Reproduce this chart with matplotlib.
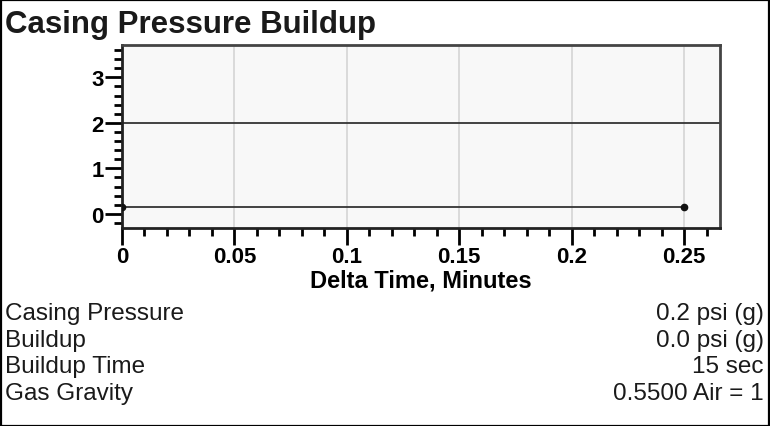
import matplotlib
matplotlib.use("Agg")
import matplotlib.pyplot as plt
from matplotlib.ticker import MultipleLocator
from matplotlib.patches import Rectangle

plt.rcParams["font.family"] = ["Liberation Sans", "DejaVu Sans"]

# Data
time_min = [0.0, 0.0833, 0.1667, 0.25]
pressure = [0.15, 0.15, 0.15, 0.15]
ref_level = 2.0
x_ticks = [0, 0.05, 0.1, 0.15, 0.2, 0.25]
x_tick_labels = ["0", "0.05", "0.1", "0.15", "0.2", "0.25"]
y_ticks = [0, 1, 2, 3]
y_tick_labels = ["0", "1", "2", "3"]
info_labels = ["Casing Pressure", "Buildup", "Buildup Time", "Gas Gravity"]
info_values = ["0.2 psi (g)", "0.0 psi (g)", "15 sec", "0.5500 Air = 1"]

W, H = 770, 427
fig = plt.figure(figsize=(W / 100, H / 100), dpi=100)
fig.patch.set_facecolor("white")

fig.add_artist(Rectangle((0.5 / W, 0.5 / H), (W - 1.5) / W, (H - 1.5) / H,
                         transform=fig.transFigure, fill=False,
                         edgecolor="black", linewidth=1.6))

fig.text(5 / W, 1 - 33 / H, "Casing Pressure Buildup",
         weight="bold", fontsize=22.5, va="baseline", ha="left", color="#1a1a1a")

ax_left, ax_right, ax_top, ax_bot = 122, 720, 46, 229
ax = fig.add_axes([ax_left / W, 1 - ax_bot / H, (ax_right - ax_left) / W, (ax_bot - ax_top) / H])
ax.set_facecolor("#f8f8f8")
ax.set_xlim(0, 0.266)
ax.set_ylim(-0.31, 3.71)

for xt in x_ticks[1:]:
    ax.axvline(xt, color="#d4d4d4", linewidth=1.2, zorder=1)

ax.axhline(ref_level, color="#333333", linewidth=1.3, zorder=2)
ax.plot(time_min, pressure, color="#333333", linewidth=1.3, zorder=3)
ax.plot([time_min[0], time_min[-1]], [pressure[0], pressure[-1]], "o",
        color="#111111", markersize=4.5, zorder=4)

ax.set_xticks(x_ticks, labels=x_tick_labels, fontweight="heavy", fontsize=16)
ax.xaxis.set_minor_locator(MultipleLocator(0.01))
ax.set_yticks(y_ticks, labels=y_tick_labels, fontweight="heavy", fontsize=16)
ax.yaxis.set_minor_locator(MultipleLocator(0.2))

ax.tick_params(axis="x", which="major", direction="out", length=12, width=2, pad=1, colors="black")
ax.tick_params(axis="x", which="minor", direction="out", length=6, width=2, colors="black")
ax.tick_params(axis="y", which="major", direction="out", length=12, width=2, pad=1, colors="black")
ax.tick_params(axis="y", which="minor", direction="out", length=6, width=2, colors="black")

for side in ["top", "right"]:
    ax.spines[side].set_color("#444444")
    ax.spines[side].set_linewidth(2)
for side in ["left", "bottom"]:
    ax.spines[side].set_color("#222222")
    ax.spines[side].set_linewidth(2)

ax.set_xlabel("Delta Time, Minutes", fontweight="heavy", fontsize=17, labelpad=1)

row_y = [320, 347, 373.5, 400]
for lab, val, y in zip(info_labels, info_values, row_y):
    fig.text(5 / W, 1 - y / H, lab, fontsize=17.5,
             ha="left", va="baseline", color="#1a1a1a")
    fig.text(764 / W, 1 - y / H, val, fontsize=17.5,
             ha="right", va="baseline", color="#1a1a1a")

fig.savefig("out.png", dpi=100, facecolor="white")
